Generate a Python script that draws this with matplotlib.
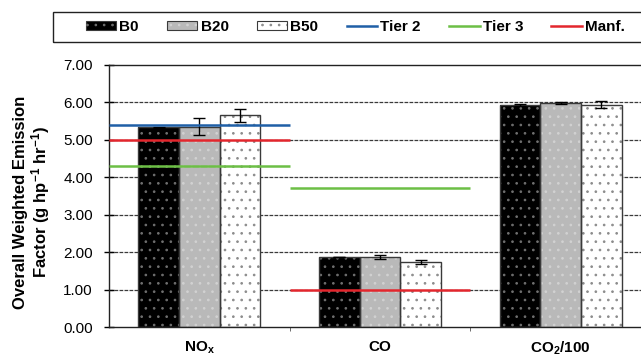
import numpy as np
import matplotlib
matplotlib.use('Agg')
import matplotlib.pyplot as plt
from matplotlib.patches import Patch, Rectangle
from matplotlib.lines import Line2D
from matplotlib.legend_handler import HandlerTuple

plt.rcParams['font.family'] = ['Liberation Sans', 'DejaVu Sans']
plt.rcParams['mathtext.fontset'] = 'custom'
plt.rcParams['mathtext.rm'] = 'Liberation Sans:bold'
plt.rcParams['mathtext.bf'] = 'Liberation Sans:bold'
plt.rcParams['mathtext.it'] = 'Liberation Sans:bold'
plt.rcParams['mathtext.default'] = 'bf'
plt.rcParams['hatch.linewidth'] = 0.7

# data
categories = ['NO$_x$', 'CO', 'CO$_2$/100']
fuels = ['B0', 'B20', 'B50']
b0 = [5.33, 1.87, 5.92]
b20 = [5.35, 1.87, 5.98]
b50 = [5.65, 1.73, 5.93]
b0_err = [0.02, 0.01, 0.02]
b20_err = [0.23, 0.05, 0.03]
b50_err = [0.17, 0.05, 0.09]
tier2 = [5.4, np.nan, np.nan]
tier3 = [4.3, 3.7, np.nan]
manf = [5.0, 1.0, np.nan]

fill_colors = ['#000000', '#b9b9b9', '#ffffff']
dot_colors = ['#707070', '#d2d2d2', '#8c8c8c']
line_colors = {'Tier 2': '#1f5fa6', 'Tier 3': '#6cbf45', 'Manf.': '#e3262d'}

fig = plt.figure(figsize=(6.41, 3.57), dpi=100)
ax = fig.add_axes([0.170, 0.084, 0.8456, 0.7347])

x = np.arange(len(categories))
width = 0.225
offsets = [-width, 0, width]

# dashed gridlines
for yv in range(1, 7):
    ax.axhline(yv, color='#3a3a3a', linestyle=(0, (3, 1)), linewidth=0.9, zorder=0)

for vals, errs, fc, dc, off in zip([b0, b20, b50], [b0_err, b20_err, b50_err],
                                   fill_colors, dot_colors, offsets):
    ax.bar(x + off, vals, width, color=fc, edgecolor='none', zorder=2)
    ax.bar(x + off, vals, width, facecolor='none', edgecolor=dc, hatch='..',
           linewidth=0, zorder=3)
    ax.bar(x + off, vals, width, facecolor='none', edgecolor='#3a3a3a',
           linewidth=1.0, zorder=4)
    ax.errorbar(x + off, vals, yerr=errs, fmt='none', ecolor='black',
                elinewidth=1, capsize=4, capthick=1, zorder=5)

# standards as horizontal segments across each category
for name, vals in [('Tier 2', tier2), ('Tier 3', tier3), ('Manf.', manf)]:
    for xi, v in zip(x, vals):
        if not np.isnan(v):
            ax.hlines(v, xi - 0.5, xi + 0.5, color=line_colors[name],
                      linewidth=1.8, zorder=6)

ax.set_xlim(-0.5, 2.5)
ax.set_ylim(0, 7)
ax.set_yticks(np.arange(0, 8, 1))
ax.set_yticklabels(['%.2f' % v for v in np.arange(0, 8, 1)], fontsize=11)
ax.set_xticks(x)
ax.set_xticklabels(categories, fontsize=11, fontweight='bold')
ax.set_xticks([0.5, 1.5], minor=True)
ax.tick_params(axis='x', which='major', length=0, pad=9)
ax.tick_params(axis='x', which='minor', length=3, direction='out', color='#555')
ax.tick_params(axis='y', direction='inout', length=7, width=1, pad=8)

for s in ['left', 'top', 'bottom']:
    ax.spines[s].set_color('#222')
    ax.spines[s].set_linewidth(1.0)
ax.spines['right'].set_visible(False)

ax.set_ylabel('Overall Weighted Emission\nFactor (g hp$^{-1}$ hr$^{-1}$)',
              fontsize=12, fontweight='bold', linespacing=1.05)
ax.yaxis.set_label_coords(-0.105, 0.475)

# legend
handles = []
for fc, dc in zip(fill_colors, dot_colors):
    handles.append((Patch(facecolor=fc, edgecolor='#3a3a3a', linewidth=0.8),
                    Patch(facecolor='none', edgecolor=dc, hatch='..', linewidth=0)))
for name in ['Tier 2', 'Tier 3', 'Manf.']:
    handles.append(Line2D([], [], color=line_colors[name], linewidth=1.8))
labels = fuels + ['Tier 2', 'Tier 3', 'Manf.']
fig.legend(handles, labels, loc='center left', bbox_to_anchor=(0.112, 0.924),
           ncol=6, frameon=False, handlelength=2.0, handleheight=0.5,
           handletextpad=0.2, columnspacing=1.85,
           prop={'weight': 'bold', 'size': 11},
           handler_map={tuple: HandlerTuple(ndivide=1, pad=0)})
fig.patches.append(Rectangle((0.083, 0.882), 1.0, 0.084, transform=fig.transFigure,
                             fill=False, edgecolor='#222', linewidth=1.0))

plt.savefig('out.png', dpi=100)
